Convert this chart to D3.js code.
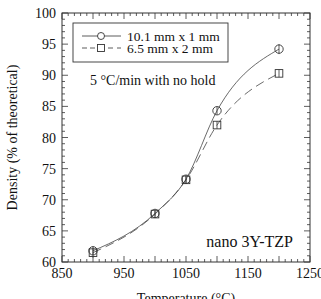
<!DOCTYPE html>
<html>
<head>
<meta charset="utf-8">
<script src="https://cdn.jsdelivr.net/npm/d3@7"></script>
<style>
  body { margin: 0; background: #fff; }
  text { font-family: "Liberation Serif", "DejaVu Serif", serif; fill: #111; }
</style>
</head>
<body>
<svg></svg>
<script>
var width = 321,
    height = 299;

// Chart data
var temps = [900, 1000, 1050, 1100, 1200];
var density10 = [61.8, 67.8, 73.3, 84.3, 94.2];   // 10.1 mm x 1 mm
var density6 = [61.5, 67.7, 73.2, 82.0, 90.3];    // 6.5 mm x 2 mm
var err10 = [0.7, 0.5, 0.6, 0.6, 0.8];
var err6 = [0.8, 0.5, 0.6, 0.6, 0.6];
var xTicks = [850, 950, 1050, 1150, 1250];
var yTicks = [60, 65, 70, 75, 80, 85, 90, 95, 100];
var legendLabels = ['10.1 mm x 1 mm', '6.5 mm x 2 mm'];

// plot box (note: "top" is reserved on window)
var pLeft = 62, pRight = 310, pTop = 13, pBottom = 262;

var x = d3.scaleLinear().domain([850, 1250]).range([pLeft, pRight]);
var y = d3.scaleLinear().domain([60, 100]).range([pBottom, pTop]);

var svg = d3.select('svg')
    .attr('width', width)
    .attr('height', height);

// Frame
svg.append('rect')
    .attr('x', pLeft)
    .attr('y', pTop)
    .attr('width', pRight - pLeft)
    .attr('height', pBottom - pTop)
    .attr('fill', 'none')
    .attr('stroke', '#333')
    .attr('stroke-width', 1);

// Inward ticks on all four sides
var xMinor = d3.range(850, 1251, 10);
var yMinor = d3.range(60, 101, 1);

function xLen(v) { return v % 50 === 0 ? 6 : 3; }
function yLen(v) { return v % 5 === 0 ? 6 : 3; }

var ticks = svg.append('g').attr('stroke', '#333').attr('stroke-width', 0.8);

ticks.append('g').selectAll('line').data(xMinor).enter().append('line')
    .attr('x1', function(d) { return x(d); })
    .attr('x2', function(d) { return x(d); })
    .attr('y1', pBottom)
    .attr('y2', function(d) { return pBottom - xLen(d); });

ticks.append('g').selectAll('line').data(xMinor).enter().append('line')
    .attr('x1', function(d) { return x(d); })
    .attr('x2', function(d) { return x(d); })
    .attr('y1', pTop)
    .attr('y2', function(d) { return pTop + xLen(d); });

ticks.append('g').selectAll('line').data(yMinor).enter().append('line')
    .attr('y1', function(d) { return y(d); })
    .attr('y2', function(d) { return y(d); })
    .attr('x1', pLeft)
    .attr('x2', function(d) { return pLeft + yLen(d); });

ticks.append('g').selectAll('line').data(yMinor).enter().append('line')
    .attr('y1', function(d) { return y(d); })
    .attr('y2', function(d) { return y(d); })
    .attr('x1', pRight)
    .attr('x2', function(d) { return pRight - yLen(d); });

// Tick labels
svg.append('g').selectAll('text').data(xTicks).enter().append('text')
    .attr('x', function(d) { return x(d); })
    .attr('y', pBottom + 16)
    .attr('text-anchor', 'middle')
    .style('font-size', '14px')
    .text(function(d) { return d; });

svg.append('g').selectAll('text').data(yTicks).enter().append('text')
    .attr('x', pLeft - 6)
    .attr('y', function(d) { return y(d) + 5; })
    .attr('text-anchor', 'end')
    .style('font-size', '14px')
    .text(function(d) { return d; });

// Axis titles
svg.append('text')
    .attr('transform', 'translate(17,' + ((pTop + pBottom) / 2) + ') rotate(-90)')
    .attr('text-anchor', 'middle')
    .style('font-size', '14px')
    .text('Density (% of theoretical)');

svg.append('text')
    .attr('x', 186)
    .attr('y', 303)
    .attr('text-anchor', 'middle')
    .style('font-size', '14px')
    .text('Temperature (°C)');

// Series lines
var line = d3.line()
    .x(function(d) { return x(d[0]); })
    .y(function(d) { return y(d[1]); })
    .curve(d3.curveMonotoneX);

svg.append('path')
    .datum(d3.zip(temps, density10))
    .attr('d', line)
    .attr('fill', 'none')
    .attr('stroke', '#444')
    .attr('stroke-width', 0.8);

svg.append('path')
    .datum(d3.zip(temps, density6))
    .attr('d', line)
    .attr('fill', 'none')
    .attr('stroke', '#444')
    .attr('stroke-width', 0.8)
    .attr('stroke-dasharray', '9,5');

// Error bars
function errBars(vals, errs) {
    svg.append('g').selectAll('line').data(temps).enter().append('line')
        .attr('x1', function(d) { return x(d); })
        .attr('x2', function(d) { return x(d); })
        .attr('y1', function(d, i) { return y(vals[i] - errs[i]); })
        .attr('y2', function(d, i) { return y(vals[i] + errs[i]); })
        .attr('stroke', '#333')
        .attr('stroke-width', 0.8);
}
errBars(density10, err10);
errBars(density6, err6);

// Markers
svg.append('g').selectAll('circle').data(temps).enter().append('circle')
    .attr('cx', function(d) { return x(d); })
    .attr('cy', function(d, i) { return y(density10[i]); })
    .attr('r', 4.2)
    .attr('fill', 'none')
    .attr('stroke', '#333')
    .attr('stroke-width', 0.9);

svg.append('g').selectAll('rect').data(temps).enter().append('rect')
    .attr('x', function(d) { return x(d) - 3.8; })
    .attr('y', function(d, i) { return y(density6[i]) - 3.8; })
    .attr('width', 7.6)
    .attr('height', 7.6)
    .attr('fill', 'none')
    .attr('stroke', '#333')
    .attr('stroke-width', 0.9);

// Legend
var legend = svg.append('g');
legend.append('rect')
    .attr('x', 73)
    .attr('y', 23)
    .attr('width', 155)
    .attr('height', 39)
    .attr('fill', '#fff')
    .attr('stroke', '#333')
    .attr('stroke-width', 0.9);

legend.append('line')
    .attr('x1', 82).attr('x2', 121).attr('y1', 36).attr('y2', 36)
    .attr('stroke', '#333').attr('stroke-width', 0.8);
legend.append('circle')
    .attr('cx', 101).attr('cy', 36).attr('r', 3.5)
    .attr('fill', '#fff').attr('stroke', '#333').attr('stroke-width', 0.9);

legend.append('line')
    .attr('x1', 90).attr('x2', 121).attr('y1', 48).attr('y2', 48)
    .attr('stroke', '#333').attr('stroke-width', 0.8)
    .attr('stroke-dasharray', '5,4');
legend.append('line')
    .attr('x1', 82).attr('x2', 87).attr('y1', 48).attr('y2', 48)
    .attr('stroke', '#333').attr('stroke-width', 0.8);
legend.append('rect')
    .attr('x', 97.5).attr('y', 44.5).attr('width', 7).attr('height', 7)
    .attr('fill', '#fff').attr('stroke', '#333').attr('stroke-width', 0.9);

legend.selectAll('text').data(legendLabels).enter().append('text')
    .attr('x', 127)
    .attr('y', function(d, i) { return 41 + i * 12; })
    .style('font-size', '13.5px')
    .text(function(d) { return d; });

// Annotations
svg.append('text')
    .attr('x', 90)
    .attr('y', 85)
    .style('font-size', '14px')
    .text('5 °C/min with no hold');

svg.append('text')
    .attr('x', 293)
    .attr('y', 247)
    .attr('text-anchor', 'end')
    .style('font-size', '16px')
    .text('nano 3Y-TZP');
</script>
</body>
</html>
